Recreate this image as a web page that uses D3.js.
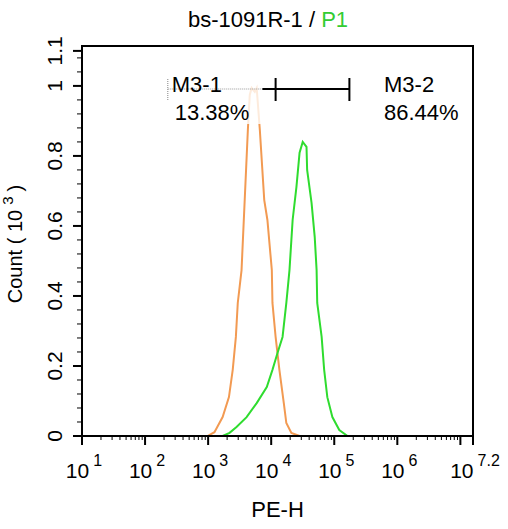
<!DOCTYPE html>
<html>
<head>
<meta charset="utf-8">
<script src="https://cdn.jsdelivr.net/npm/d3@7"></script>
<style>
  body { margin: 0; background: #fff; }
  text { font-family: "Liberation Sans", Arial, sans-serif; }
</style>
</head>
<body>
<div id="chart"></div>
<script>
// histogram data, x as log10(PE-H), y as count in thousands
var ctrlLog   = [2.85, 2.99, 3.10, 3.23, 3.33, 3.39, 3.44, 3.47, 3.53, 3.58, 3.63, 3.66, 3.69, 3.74, 3.77, 3.82, 3.89, 3.94, 4.01, 4.02, 4.07, 4.13, 4.20, 4.24, 4.32, 4.45, 4.61];
var ctrlCount = [0, 0, 0.011, 0.054, 0.111, 0.189, 0.283, 0.380, 0.474, 0.674, 0.874, 0.974, 0.994, 0.983, 0.994, 0.874, 0.674, 0.617, 0.474, 0.380, 0.283, 0.189, 0.094, 0.037, 0.009, 0, 0];

var sampleLog   = [3.10, 3.23, 3.34, 3.45, 3.61, 3.77, 3.93, 4.02, 4.10, 4.18, 4.24, 4.29, 4.34, 4.40, 4.45, 4.50, 4.56, 4.57, 4.64, 4.69, 4.72, 4.73, 4.80, 4.84, 4.89, 4.97, 5.08, 5.21, 5.35];
var sampleCount = [0, 0, 0.009, 0.026, 0.054, 0.094, 0.140, 0.189, 0.237, 0.283, 0.380, 0.474, 0.617, 0.711, 0.809, 0.840, 0.826, 0.760, 0.666, 0.569, 0.474, 0.380, 0.283, 0.189, 0.111, 0.054, 0.017, 0, 0];

// axes
var xMajorExps = [1, 2, 3, 4, 5, 6, 7];
var xLabelExps = ["1", "2", "3", "4", "5", "6", "7.2"];
var xLabelPos  = [1, 2, 3, 4, 5, 6, 7.2];
var yMajor = [0, 0.2, 0.4, 0.6, 0.8, 1, 1.1];
var yMajorText = ["0", "0.2", "0.4", "0.6", "0.8", "1", "1.1"];

// gates (log10 units)
var gate1 = [2.36, 4.07];
var gate2 = [4.07, 5.24];
var gateSolidFrom = 3.86;
var gateNames = ["M3-1", "M3-2"];
var gatePcts  = ["13.38%", "86.44%"];

var W = 508, H = 529;
var mLeft = 82, mRight = 473, mTop = 46, mBottom = 436;

var svg = d3.select("#chart").append("svg")
    .attr("width", W)
    .attr("height", H);

var x = d3.scaleLinear().domain([1, 7.2]).range([mLeft, mRight]);
var y = d3.scaleLinear().domain([0, 1.114]).range([mBottom, mTop]);

// curves
var line = d3.line()
    .x(function(d){ return x(d[0]); })
    .y(function(d){ return y(d[1]); });

svg.append("path")
    .datum(d3.zip(ctrlLog, ctrlCount))
    .attr("d", line)
    .attr("fill", "none")
    .attr("stroke", "#f29a52")
    .attr("stroke-width", 2);

svg.append("path")
    .datum(d3.zip(sampleLog, sampleCount))
    .attr("d", line)
    .attr("fill", "none")
    .attr("stroke", "#2fdc2f")
    .attr("stroke-width", 2);

// faded box behind the M3-1 label
svg.append("rect")
    .attr("x", x(gate1[0]) + 2).attr("y", 76)
    .attr("width", x(gateSolidFrom) - x(gate1[0]) - 2).attr("height", 48)
    .attr("fill", "#fff").attr("opacity", 0.8);

// gate lines
var gy = 89;
svg.append("line")
    .attr("x1", x(gate1[0])).attr("x2", x(gateSolidFrom))
    .attr("y1", gy).attr("y2", gy)
    .attr("stroke", "#999").attr("stroke-width", 1.2)
    .attr("stroke-dasharray", "1,1");
svg.append("line")
    .attr("x1", x(gate1[0])).attr("x2", x(gate1[0]))
    .attr("y1", gy - 10).attr("y2", gy + 11)
    .attr("stroke", "#999").attr("stroke-width", 1.2)
    .attr("stroke-dasharray", "1,1");
svg.append("line")
    .attr("x1", x(gateSolidFrom)).attr("x2", x(gate2[1]))
    .attr("y1", gy).attr("y2", gy)
    .attr("stroke", "#000").attr("stroke-width", 2);
[gate2[0], gate2[1]].forEach(function(v){
    svg.append("line")
        .attr("x1", x(v)).attr("x2", x(v))
        .attr("y1", gy - 11).attr("y2", gy + 12)
        .attr("stroke", "#000").attr("stroke-width", 2);
});

// gate labels
var labelX = [x(gate1[0]) + 4, 384];
var pctX = [x(gate1[0]) + 7, 384];
gateNames.forEach(function(n, i){
    svg.append("text").attr("x", labelX[i]).attr("y", 92)
        .attr("font-size", 22).text(n);
    svg.append("text").attr("x", pctX[i]).attr("y", 120)
        .attr("font-size", 22).text(gatePcts[i]);
});

// frame
svg.append("rect")
    .attr("x", mLeft).attr("y", mTop)
    .attr("width", mRight - mLeft).attr("height", mBottom - mTop)
    .attr("fill", "none").attr("stroke", "#000").attr("stroke-width", 2);

// x ticks (log)
var xMinor = [];
xMajorExps.forEach(function(e){
    for (var k = 2; k <= 9; k++) {
        var v = e + Math.log10(k);
        if (v < 7.2) xMinor.push(v);
    }
});
svg.selectAll(".xminor").data(xMinor).enter().append("line")
    .attr("x1", function(d){ return x(d); }).attr("x2", function(d){ return x(d); })
    .attr("y1", mBottom).attr("y2", mBottom + 4)
    .attr("stroke", "#000").attr("stroke-width", 1);
svg.selectAll(".xmajor").data(xMajorExps.concat([7.2])).enter().append("line")
    .attr("x1", function(d){ return x(d); }).attr("x2", function(d){ return x(d); })
    .attr("y1", mBottom).attr("y2", mBottom + 9)
    .attr("stroke", "#000").attr("stroke-width", 2);

xLabelPos.forEach(function(p, i){
    var t = svg.append("text")
        .attr("x", x(p) + 2).attr("y", 478)
        .attr("text-anchor", "middle")
        .attr("font-size", 21);
    t.append("tspan").text("10");
    t.append("tspan").attr("dx", 4).attr("dy", -12)
        .attr("font-size", 16).text(xLabelExps[i]);
});

// y ticks
var yMinor = d3.range(0, 28).map(function(i){ return i * 0.04; })
    .filter(function(v){ return Math.abs(v * 5 - Math.round(v * 5)) > 0.01; });
svg.selectAll(".yminor").data(yMinor).enter().append("line")
    .attr("x1", mLeft - 5).attr("x2", mLeft)
    .attr("y1", function(d){ return y(d); }).attr("y2", function(d){ return y(d); })
    .attr("stroke", "#000").attr("stroke-width", 1);
svg.selectAll(".ymajor").data(yMajor).enter().append("line")
    .attr("x1", mLeft - 9).attr("x2", mLeft)
    .attr("y1", function(d){ return y(d); }).attr("y2", function(d){ return y(d); })
    .attr("stroke", "#000").attr("stroke-width", 2);
svg.selectAll(".ylab").data(yMajor).enter().append("text")
    .attr("transform", function(d){ return "translate(" + 62 + "," + y(d) + ") rotate(-90)"; })
    .attr("text-anchor", "middle")
    .attr("font-size", 21)
    .text(function(d, i){ return yMajorText[i]; });

// axis titles
var yt = svg.append("text")
    .attr("transform", "translate(22,244) rotate(-90)")
    .attr("text-anchor", "middle")
    .attr("font-size", 20);
yt.append("tspan").text("Count  ( 10");
yt.append("tspan").attr("dx", 5).attr("dy", -9).attr("font-size", 15).text("3");
yt.append("tspan").attr("dx", 5).attr("dy", 9).text(")");

svg.append("text")
    .attr("x", (mLeft + mRight) / 2).attr("y", 517)
    .attr("text-anchor", "middle")
    .attr("font-size", 22)
    .text("PE-H");

// title
var title = svg.append("text")
    .attr("x", 268).attr("y", 27)
    .attr("text-anchor", "middle")
    .attr("font-size", 22);
title.append("tspan").text("bs-1091R-1 / ");
title.append("tspan").attr("fill", "#33cc33").text("P1");
</script>
</body>
</html>
